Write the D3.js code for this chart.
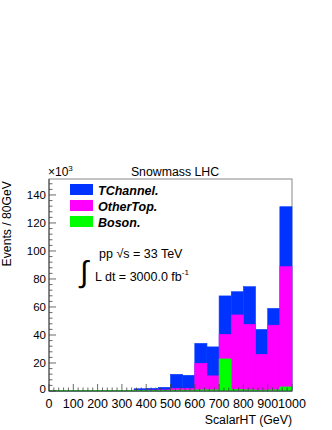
<!DOCTYPE html>
<html>
<head>
<meta charset="utf-8">
<script src="https://cdn.jsdelivr.net/npm/d3@7"></script>
<style>
body { margin: 0; background: #fff; }
svg text { font-family: "Liberation Sans", Arial, sans-serif; fill: #000; }
</style>
</head>
<body>
<div id="chart"></div>
<script>
// bins of 50 GeV from 0 to 1000, values in thousands of events
var binEdges = d3.range(0, 1001, 50)
var boson    = [0.4,0.4,0.4,0.4,0.4,0.4,0.4,0.5,0.5,0.5,0.6,0.6,0.8,0.8,22.9,1.0,0.8,0.6,0.8,2.9]
var otherTop = [0,0,0,0,0,0,0,0.1,0.2,0.3,1.3,1.3,19.0,10.0,17.6,53.3,46.8,25.6,46.2,85.9]
var tChannel = [0,0,0,0,0,0,0,1.0,1.2,1.8,10.0,9.3,14.2,20.7,27.4,16.6,26.9,17.8,12.0,42.8]
var seriesNames = ["Boson.", "OtherTop.", "TChannel."]
var seriesColors = ["#00ff00", "#ff00ff", "#0033ff"]
var xTicks = d3.range(0, 1001, 100)
var yTicks = d3.range(0, 141, 20)

var width = 332, height = 430
var margin = {left: 49, right: 40, top: 179, bottom: 39}

var svg = d3.select("#chart").append("svg")
	.attr("width", width)
	.attr("height", height)

var x = d3.scaleLinear().domain([0, 1000]).range([margin.left, width - margin.right])
var y = d3.scaleLinear().domain([0, 151.4]).range([height - margin.bottom, margin.top])

// build table for the stack
var rows = boson.map(function(v, i) {
	return {lo: binEdges[i], hi: binEdges[i+1], "Boson.": v, "OtherTop.": otherTop[i], "TChannel.": tChannel[i]}
})
var stack = d3.stack().keys(seriesNames)(rows)

// frame
svg.append("rect")
	.attr("x", x(0)).attr("y", y.range()[1])
	.attr("width", x(1000) - x(0)).attr("height", y(0) - y.range()[1])
	.attr("fill", "none").attr("stroke", "#888").attr("stroke-width", 1)

// bars, top layer drawn first so lower layers sit over it
var layers = svg.append("g")
stack.slice().reverse().forEach(function(layer) {
	var c = seriesColors[layer.index]
	layers.append("g").selectAll("rect")
		.data(layer)
		.enter()
		.append("rect")
		.attr("x", function(d) { return x(d.data.lo) })
		.attr("width", function(d) { return x(d.data.hi) - x(d.data.lo) })
		.attr("y", function(d) { return y(d[1]) })
		.attr("height", function(d) { return Math.max(0, y(0) - y(d[1])) })
		.attr("fill", c)
		.attr("stroke", d3.color(c).brighter(0.6))
		.attr("stroke-width", 0.6)
})

// axes, ROOT style ticks point inward
var xAxis = svg.append("g").attr("transform", "translate(0," + y(0) + ")")
xAxis.append("line").attr("x1", x(0)).attr("x2", x(1000)).attr("stroke", "#444")
xAxis.selectAll(".minor").data(d3.range(0, 1001, 20)).enter().append("line")
	.attr("x1", function(d) { return x(d) }).attr("x2", function(d) { return x(d) })
	.attr("y1", 0).attr("y2", function(d) { return d % 100 == 0 ? -7 : -3.5 })
	.attr("stroke", "#444").attr("stroke-width", 0.8)
xAxis.selectAll("text").data(xTicks).enter().append("text")
	.attr("x", function(d) { return x(d) })
	.attr("y", 17)
	.attr("text-anchor", "middle")
	.style("font-size", "12.5px")
	.text(function(d) { return d })

var yAxis = svg.append("g").attr("transform", "translate(" + x(0) + ",0)")
yAxis.append("line").attr("y1", y(0)).attr("y2", y.range()[1]).attr("stroke", "#444")
yAxis.selectAll(".minor").data(d3.range(0, 151, 4)).enter().append("line")
	.attr("y1", function(d) { return y(d) }).attr("y2", function(d) { return y(d) })
	.attr("x1", 0).attr("x2", function(d) { return d % 20 == 0 ? 7 : 3.5 })
	.attr("stroke", "#444").attr("stroke-width", 0.8)
yAxis.selectAll("text").data(yTicks).enter().append("text")
	.attr("x", -3)
	.attr("y", function(d) { return d == 0 ? y(d) + 2 : y(d) + 4 })
	.attr("text-anchor", "end")
	.style("font-size", "11.5px")
	.text(function(d) { return d })

// exponent
var expo = svg.append("text").attr("x", x(0) - 1).attr("y", 176).style("font-size", "12px")
expo.append("tspan").text("\u00d710")
expo.append("tspan").attr("dy", -5).style("font-size", "8px").text("3")

// titles
svg.append("text").attr("x", 175).attr("y", 176).attr("text-anchor", "middle")
	.style("font-size", "12.3px").text("Snowmass LHC")
svg.append("text").attr("x", x(1000)).attr("y", 424).attr("text-anchor", "end")
	.style("font-size", "12.3px").text("ScalarHT (GeV)")
svg.append("text")
	.attr("transform", "translate(11," + (y.range()[1] + 2) + ") rotate(-90)")
	.attr("text-anchor", "end")
	.style("font-size", "12.2px").text("Events / 80GeV")

// legend
var legendOrder = ["TChannel.", "OtherTop.", "Boson."]
var legend = svg.append("g")
legendOrder.forEach(function(name, i) {
	var c = seriesColors[seriesNames.indexOf(name)]
	legend.append("rect")
		.attr("x", 70).attr("y", 184 + i * 16)
		.attr("width", 23).attr("height", 11)
		.attr("fill", c)
	legend.append("text")
		.attr("x", 98).attr("y", 195 + i * 16)
		.style("font-size", "12.5px").style("font-weight", "bold").style("font-style", "italic")
		.text(name)
})

// energy / luminosity label
var t1 = svg.append("text").attr("x", 99).attr("y", 258).style("font-size", "12.5px")
t1.text("pp \u221as = 33 TeV")
svg.append("text").attr("x", 80).attr("y", 282).style("font-size", "30px")
	.text("\u222b")
var t2 = svg.append("text").attr("x", 95).attr("y", 281).style("font-size", "12.5px")
t2.append("tspan").text("L dt = 3000.0 fb")
t2.append("tspan").attr("dy", -6).style("font-size", "8px").text("-1")
</script>
</body>
</html>
